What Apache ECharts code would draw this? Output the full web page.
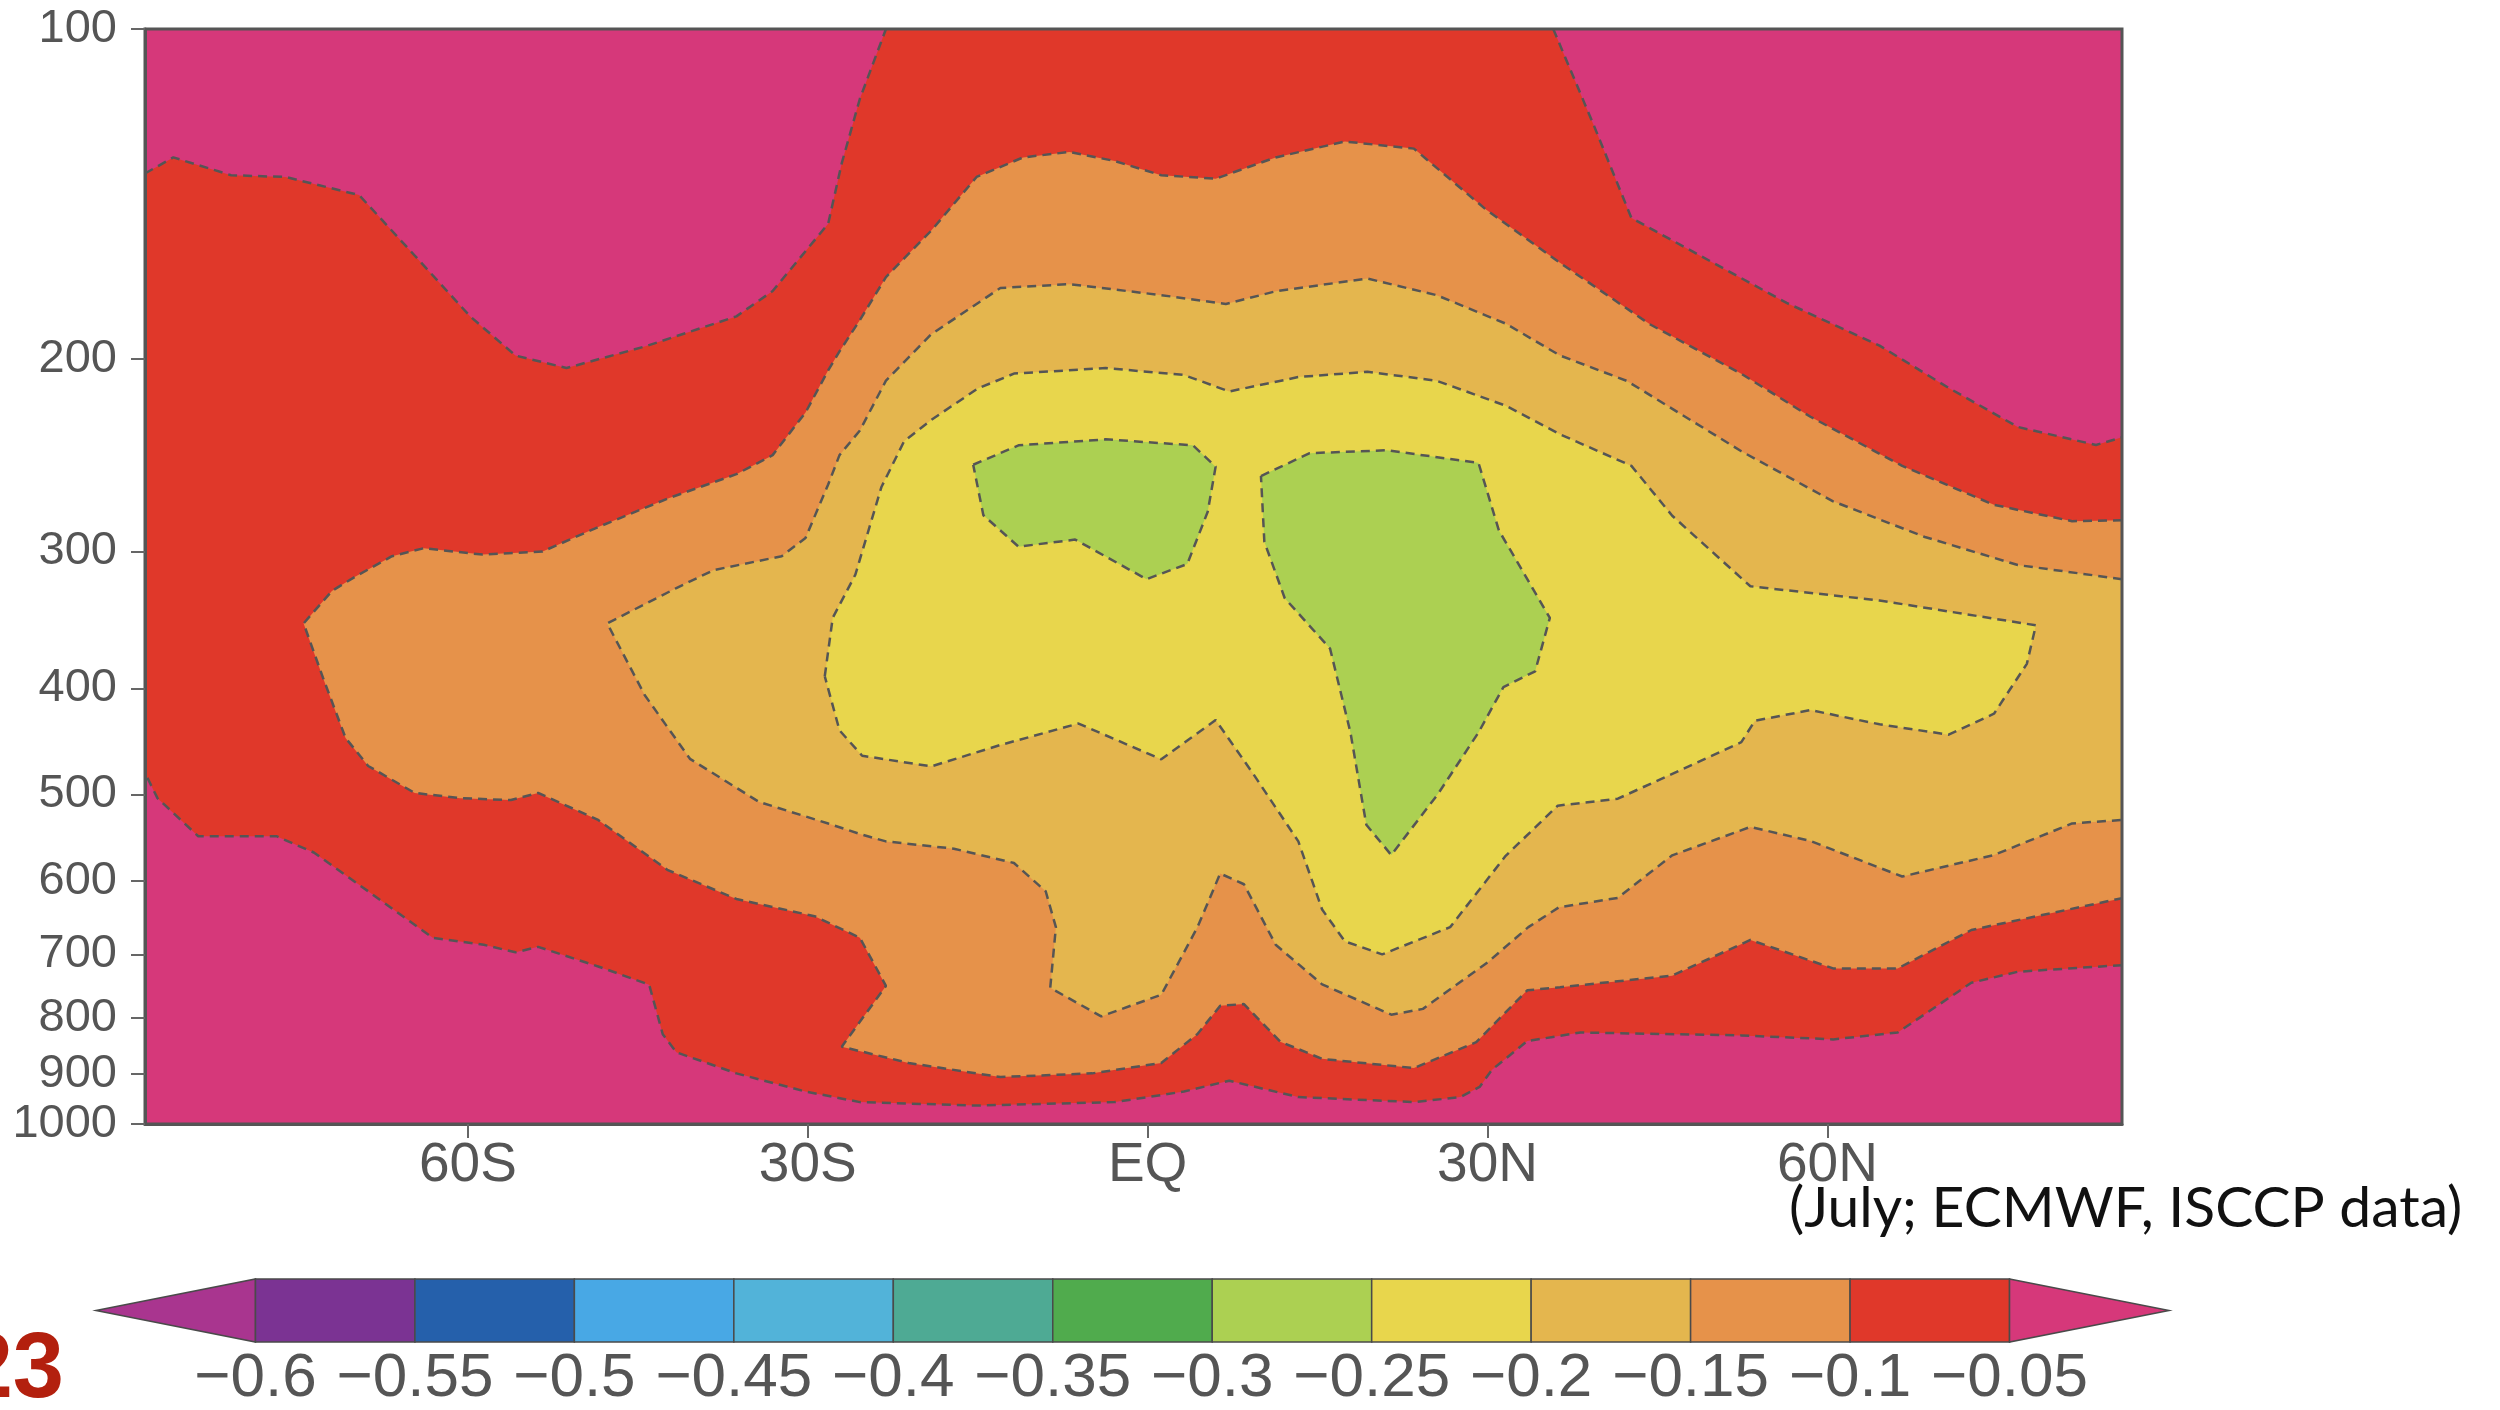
<!DOCTYPE html>
<html>
<head>
<meta charset="utf-8">
<title>Zonal mean cross section</title>
<script src="https://cdn.jsdelivr.net/npm/echarts@6/dist/echarts.min.js"></script>
<style>
  html, body { margin: 0; padding: 0; background: #fff; }
  #chart { width: 2500px; height: 1410px; }
</style>
</head>
<body>
<div id="chart"></div>
<script>
// axis ranges and ticks
const latMin = -88.5, latMax = 86;
const pTop = 100, pBottom = 1000;
const latTicks = [-60, -30, 0, 30, 60];
const latLabels = ['60S', '30S', 'EQ', '30N', '60N'];
const pressureTicks = [100, 200, 300, 400, 500, 600, 700, 800, 900, 1000];

// colour bar levels
const levelBounds = [-0.6, -0.55, -0.5, -0.45, -0.4, -0.35, -0.3, -0.25, -0.2, -0.15, -0.1, -0.05];

// contours: [latitude, pressure (hPa)]
// -0.05 contour, three pieces (left edge -> top, top -> right edge, right edge -> left edge)
const c005UpperLeft = [[-88.5,135.5],[-86,131],[-80.9,136],[-76.1,136.5],[-69.6,141.8],[-64.7,161],[-59.8,183],
  [-55.8,198.7],[-51.3,204],[-44.4,195],[-36.3,183],[-33.1,173.5],[-28.2,150.6],[-27,132.6],[-25.4,115.8],[-23.1,100]];
const c005UpperRight = [[35.8,100],[39.4,122.6],[42.7,148.8],[48.4,160.3],[56.4,177.9],[64.6,194.6],[70.7,212.7],
  [76.8,230.9],[83.7,239.8],[86,236]];
const c005Lower = [[86,716],[76.8,726],[72.7,743],[66.2,825],[60.5,837],[52.4,830],[38.2,825],[33.5,840],[30.4,892],
  [29.3,925],[27.6,945],[23.5,955],[13.3,945],[7.2,913],[3.2,934],[-2.9,955],[-15.1,962],[-25.4,955],[-30.2,934],
  [-36.3,899],[-41.6,860],[-42.8,828],[-44,746],[-48.5,718],[-53.8,689],[-55.8,697],[-58.6,686],[-63.1,676],
  [-68.8,613],[-73.6,565],[-76.9,546],[-83.8,546],[-87.4,504],[-88.5,478]];
// -0.1 contour (right edge -> right edge)
const c010 = [[86,281],[81.6,281.5],[74.7,272],[66.6,250.6],[58.5,226],[52.4,206.5],[44.3,186],[36.2,163],[29.8,146],
  [23.5,128.6],[17.4,126.7],[11.3,131],[6,137],[1.2,136],[-2.9,132],[-6.9,129.5],[-11,131],[-15.1,136.5],[-19.1,152.8],
  [-23.1,168.5],[-25.4,184.4],[-27.2,197],[-28.2,205],[-30.2,224],[-33.1,245],[-36.3,255],[-42.4,268.5],[-48.5,285],
  [-53.4,300],[-58.7,302],[-63.9,298],[-66.7,303],[-70,316.6],[-72,326],[-74.5,349],[-72.8,391],[-70.8,444],
  [-68.8,471],[-64.7,498.5],[-60.7,504],[-56.2,506],[-53.8,498.5],[-48.5,527.6],[-42.4,586],[-36.3,623],[-29.4,646],
  [-25.4,676],[-23.1,748],[-27,850],[-21.1,879.5],[-13,906],[-4.9,899],[1.2,879.5],[4.4,827.6],[6.4,780],[8.5,777],
  [11.7,841],[15.4,872],[23.5,889],[29,842],[33.5,755],[36.4,750],[46.3,732],[53.2,679],[60.5,721],[66.2,721],
  [72.7,665],[86,622]];
// -0.15 contour (right edge -> right edge)
const c015 = [[86,318],[76.8,308.7],[68.6,291],[60.5,270],[52.4,243],[42.3,209.6],[36.4,198.7],[31.6,185.8],[25.5,175],
  [19.4,169],[11.3,173.6],[6.9,178.3],[1.2,175],[-6.9,171],[-13,172.4],[-19.1,190],[-23.1,209.5],[-25.4,232.6],
  [-27.2,245],[-28.2,260.6],[-30.2,291.6],[-32.3,303],[-38.3,312],[-41.6,324],[-47.7,349],[-44.4,405.7],[-40.4,464],
  [-34.3,508],[-28.2,531.6],[-25.4,543.4],[-23.1,552],[-17.1,560.5],[-11.8,577.6],[-9,613],[-8.1,661],[-8.6,751],
  [-4.1,797.5],[1.2,762],[4.4,661],[6.4,590.6],[8.5,604],[11.3,686],[15.4,745.6],[21.5,794.6],[24.3,785],[30,712],
  [33.6,661],[36.3,634],[41.5,621.6],[46.3,568.4],[53.2,535.4],[58.5,551.5],[66.6,594.3],[74.7,568],[81.6,531.5],
  [86,527.6]];
// -0.2 contour (closed)
const c020 = [[-28.5,390],[-27.8,345],[-25.8,315],[-23.5,262],[-21.5,238],[-19.1,227.5],[-15,213],[-11.8,206.4],
  [-3.7,204],[3.2,207],[7.2,214.3],[13.3,207.9],[19.4,205.6],[25.5,209.5],[31.6,220.8],[36.4,234.5],[42.7,250.6],
  [46.3,278.3],[53.2,322.8],[64.6,332.6],[78.4,350.4],[77.6,380],[74.7,422],[70.7,441],[64.6,431.5],[58.5,418.8],
  [53.6,428.3],[52.4,448],[41.5,504.6],[36.2,512],[31.6,569],[26.7,661],[20.7,700],[17.4,681],[15.4,637],[13.3,552],
  [9.3,478.6],[6,427.6],[1.2,464.5],[-6.1,430.8],[-13,450.7],[-19.1,471.4],[-25.2,461],[-27.2,437],[-28.5,390]];
// -0.25 contours (two closed blobs)
const c025West = [[-15.4,250],[-11.4,240],[-3.7,237],[4,240],[6,251],[5.3,276],[3.5,308],[-0.1,318],[-6.4,292.6],
  [-11.4,297],[-14.5,278],[-15.4,250]];
const c025East = [[10,256],[14.3,244],[21.1,242.5],[29.2,249],[31,287],[35.5,345],[34.2,386],[31.4,399],[29.2,439],
  [25.6,500],[21.5,568],[19.3,533],[17.9,439],[16.1,368],[12.1,331],[10.3,294],[10,256]];

// colours
const aboveColor = '#d6387a';
const belowColor = '#a9358f';
const bandColors = ['#7b3393', '#2560ab', '#48a8e5', '#52b3d9', '#4eaa94', '#50ab4d',
                    '#acd052', '#e8d64c', '#e4b64e', '#e6924a', '#e0382a'];
const lineColor = '#555';
const textColor = '#555';
const narrowFont = '"Liberation Sans Narrow", "Liberation Sans", sans-serif';

function bandBelow(level) {
  return bandColors[levelBounds.indexOf(level) - 1];
}

// filled regions, painted from the outside in
const shaded = [
  { pts: [[latMin, pTop], [latMax, pTop], [latMax, pBottom], [latMin, pBottom]], color: aboveColor },
  { pts: c005UpperLeft.concat(c005UpperRight, c005Lower), color: bandBelow(-0.05) },
  { pts: c010, color: bandBelow(-0.1) },
  { pts: c015, color: bandBelow(-0.15) },
  { pts: c020, color: bandBelow(-0.2) },
  { pts: c025West, color: bandBelow(-0.25) },
  { pts: c025East, color: bandBelow(-0.25) }
];
const contourLines = [c005UpperLeft, c005UpperRight, c005Lower, c010, c015, c020, c025West, c025East];

// colour bar pieces: [from, to, kind] kind 1 = left arrow, 2 = right arrow
const step = 0.05;
const cbItems = [[levelBounds[0] - step, levelBounds[0], 1]];
for (let i = 0; i < levelBounds.length - 1; i++) {
  cbItems.push([levelBounds[i], levelBounds[i + 1], 0]);
}
cbItems.push([levelBounds[levelBounds.length - 1], levelBounds[levelBounds.length - 1] + step, 2]);
const cbColors = [belowColor].concat(bandColors, [aboveColor]);

function renderFill(params, api) {
  const r = shaded[params.dataIndex];
  return {
    type: 'polygon',
    shape: { points: r.pts.map(d => api.coord(d)) },
    style: { fill: r.color }
  };
}

function renderBar(params, api) {
  const lo = api.value(0), hi = api.value(1), kind = api.value(2);
  const a = api.coord([lo, 0]);
  const b = api.coord([hi, 1]);
  const mid = (a[1] + b[1]) / 2;
  let points;
  if (kind === 1) {
    points = [[a[0], mid], [b[0], b[1]], [b[0], a[1]]];
  } else if (kind === 2) {
    points = [[a[0], b[1]], [b[0], mid], [a[0], a[1]]];
  } else {
    points = [[a[0], a[1]], [b[0], a[1]], [b[0], b[1]], [a[0], b[1]]];
  }
  return {
    type: 'polygon',
    shape: { points: points },
    style: { fill: cbColors[params.dataIndex], stroke: '#4a4a4a', lineWidth: 1.5 }
  };
}

const chart = echarts.init(document.getElementById('chart'));

const series = [
  {
    type: 'custom',
    xAxisIndex: 0,
    yAxisIndex: 0,
    renderItem: renderFill,
    data: shaded.map(r => r.pts[0]),
    clip: true,
    silent: true,
    z: 1
  }
];
contourLines.forEach(function (pts) {
  series.push({
    type: 'line',
    xAxisIndex: 0,
    yAxisIndex: 0,
    data: pts,
    showSymbol: false,
    symbol: 'none',
    clip: true,
    silent: true,
    z: 3,
    lineStyle: { color: lineColor, width: 2.5, type: [9, 6] }
  });
});
series.push({
  type: 'custom',
  xAxisIndex: 1,
  yAxisIndex: 1,
  renderItem: renderBar,
  encode: { x: [0, 1], y: 2 },
  data: cbItems,
  silent: true
});

const option = {
  animation: false,
  backgroundColor: '#fff',
  grid: [
    { left: 145, top: 29, width: 1977, height: 1095, show: true, backgroundColor: 'transparent',
      borderColor: '#555', borderWidth: 3, z: 5 },
    { left: 96, top: 1279, width: 2073, height: 64 }
  ],
  xAxis: [
    {
      gridIndex: 0,
      type: 'value',
      min: latMin,
      max: latMax,
      z: 6,
      splitLine: { show: false },
      axisLine: { show: true, onZero: false, lineStyle: { color: '#555', width: 3 } },
      axisTick: { show: true, customValues: latTicks, length: 14, lineStyle: { color: '#666', width: 2 } },
      axisLabel: {
        customValues: latTicks,
        formatter: v => latLabels[latTicks.indexOf(v)],
        fontSize: 55,
        fontFamily: narrowFont,
        color: textColor,
        margin: 14
      }
    },
    {
      gridIndex: 1,
      type: 'value',
      min: levelBounds[0] - step,
      max: levelBounds[levelBounds.length - 1] + step,
      splitLine: { show: false },
      axisLine: { show: false },
      axisTick: { show: false },
      axisLabel: {
        customValues: levelBounds,
        formatter: v => '\u2212' + String(-v),
        fontSize: 62,
        fontFamily: '"Liberation Sans", sans-serif',
        color: textColor,
        margin: 6
      }
    }
  ],
  yAxis: [
    {
      gridIndex: 0,
      type: 'log',
      logBase: 10,
      min: pTop,
      max: pBottom,
      inverse: true,
      z: 6,
      splitLine: { show: false },
      axisLine: { show: true, onZero: false, lineStyle: { color: '#555', width: 3 } },
      axisTick: { show: true, customValues: pressureTicks, length: 14, lineStyle: { color: '#666', width: 2 } },
      axisLabel: {
        customValues: pressureTicks,
        formatter: v => String(Math.round(v)),
        fontSize: 47,
        fontFamily: '"Liberation Sans", sans-serif',
        color: textColor,
        margin: 28
      }
    },
    {
      gridIndex: 1,
      type: 'value',
      min: 0,
      max: 1,
      show: false
    }
  ],
  graphic: [
    {
      type: 'text',
      x: 1789,
      y: 1209,
      style: {
        text: '(July; ECMWF, ISCCP data)',
        font: '57px Lato, "Open Sans", sans-serif',
        fill: '#111',
        textVerticalAlign: 'middle'
      }
    },
    {
      type: 'text',
      x: 64,
      y: 1372,
      style: {
        text: '23',
        font: 'bold 92px ' + narrowFont,
        fill: '#b3200e',
        textAlign: 'right',
        textVerticalAlign: 'middle'
      }
    }
  ],
  series: series
};

chart.setOption(option);
</script>
</body>
</html>
